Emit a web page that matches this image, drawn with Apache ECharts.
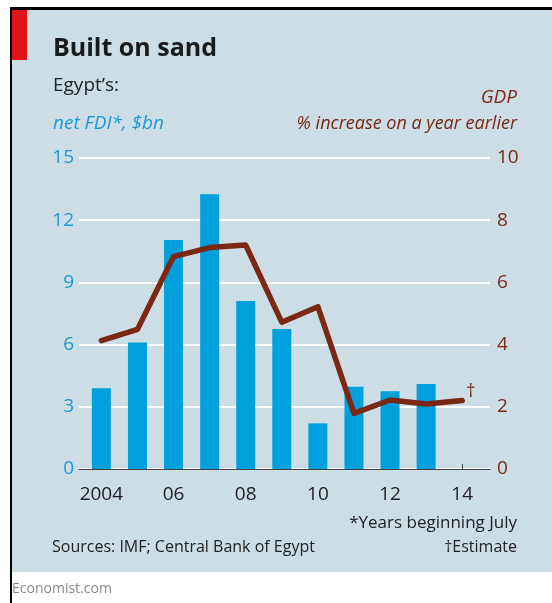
<!DOCTYPE html>
<html>
<head>
<meta charset="utf-8">
<script src="https://cdn.jsdelivr.net/npm/echarts@6/dist/echarts.min.js"></script>
<style>
  html, body { margin: 0; padding: 0; background: #fff; }
  #chart { width: 552px; height: 603px; }
</style>
</head>
<body>
<div id="chart"></div>
<script>
// fiscal years (beginning July)
const years = [2004, 2005, 2006, 2007, 2008, 2009, 2010, 2011, 2012, 2013, 2014];
// net FDI, $bn (no figure for 2014)
const fdi = [3.9, 6.1, 11.05, 13.25, 8.1, 6.75, 2.2, 3.97, 3.75, 4.1, null];
// GDP, % increase on a year earlier (2014 is an estimate)
const gdp = [4.13, 4.49, 6.83, 7.12, 7.2, 4.72, 5.22, 1.79, 2.22, 2.09, 2.2];
const yearLabels = [2004, 2006, 2008, 2010, 2012, 2014];

const font = '"Open Sans", "Noto Sans", sans-serif';
const blue = '#00a0dc';
const brown = '#7a2814';

const chart = echarts.init(document.getElementById('chart'));

const option = {
  animation: false,
  textStyle: { fontFamily: font },
  grid: { left: 79, right: 62, top: 158, bottom: 134 },
  graphic: [
    { type: 'rect', shape: { x: 12, y: 10, width: 540, height: 562 }, style: { fill: '#cddde6' }, z: -10 },
    { type: 'rect', shape: { x: 10, y: 7, width: 542, height: 3 }, style: { fill: '#000' } },
    { type: 'rect', shape: { x: 10, y: 7, width: 2, height: 596 }, style: { fill: '#000' } },
    { type: 'rect', shape: { x: 12, y: 10, width: 15, height: 50 }, style: { fill: '#e3131b' } },
    { type: 'text', left: 53, top: 36, style: { text: 'Built on sand', fill: '#1a1a1a', font: 'bold 25px ' + font } },
    { type: 'text', left: 53, top: 76, style: { text: 'Egypt\u2019s:', fill: '#222', font: '19px ' + font } },
    { type: 'text', left: 53, top: 114, style: { text: 'net FDI*, $bn', fill: '#1b9bd4', font: 'italic 19px ' + font } },
    { type: 'text', right: 35, top: 88, style: { text: 'GDP', fill: brown, font: 'italic 19px ' + font, textAlign: 'right' } },
    { type: 'text', right: 35, top: 115, style: { text: '% increase on a year earlier', fill: brown, font: 'italic 18px ' + font, textAlign: 'right' } },
    { type: 'text', right: 35, top: 515, style: { text: '*Years beginning July', fill: '#222', font: '17px ' + font, textAlign: 'right' } },
    { type: 'text', left: 52, top: 539, style: { text: 'Sources: IMF; Central Bank of Egypt', fill: '#222', font: '16px ' + font } },
    { type: 'text', right: 35, top: 539, style: { text: '\u2020Estimate', fill: '#222', font: '16px ' + font, textAlign: 'right' } },
    { type: 'text', left: 12, top: 582, style: { text: 'Economist.com', fill: '#888', font: '14px ' + font } }
  ],
  xAxis: {
    type: 'value',
    min: 2003.38,
    max: 2014.77,
    splitLine: { show: false },
    axisLine: { show: true, lineStyle: { color: '#444', width: 1 } },
    axisTick: {
      show: true, inside: true, length: 5,
      customValues: years,
      lineStyle: { color: '#444' }
    },
    axisLabel: {
      customValues: yearLabels,
      color: '#222',
      fontSize: 19,
      margin: 16,
      formatter: v => v === 2004 ? '2004' : String(v).slice(2)
    }
  },
  yAxis: [
    {
      type: 'value', min: 0, max: 15, interval: 3,
      axisLine: { show: false }, axisTick: { show: false },
      axisLabel: { color: '#1b9bd4', fontSize: 19, margin: 5 },
      splitLine: { lineStyle: { color: '#fff', width: 2 } }
    },
    {
      type: 'value', min: 0, max: 10, interval: 2,
      axisLine: { show: false }, axisTick: { show: false },
      axisLabel: { color: brown, fontSize: 19, margin: 7 },
      splitLine: { show: false }
    }
  ],
  series: [
    {
      type: 'bar',
      yAxisIndex: 0,
      barWidth: 19,
      itemStyle: { color: blue },
      data: years.map((y, i) => [y, fdi[i]])
    },
    {
      type: 'line',
      yAxisIndex: 1,
      symbol: 'none',
      lineStyle: { color: brown, width: 5.5, cap: 'round', join: 'round' },
      endLabel: { show: true, formatter: '\u2020', color: brown, fontSize: 18, distance: 4, offset: [0, -9] },
      data: years.map((y, i) => [y, gdp[i]])
    }
  ]
};

chart.setOption(option);
</script>
</body>
</html>
